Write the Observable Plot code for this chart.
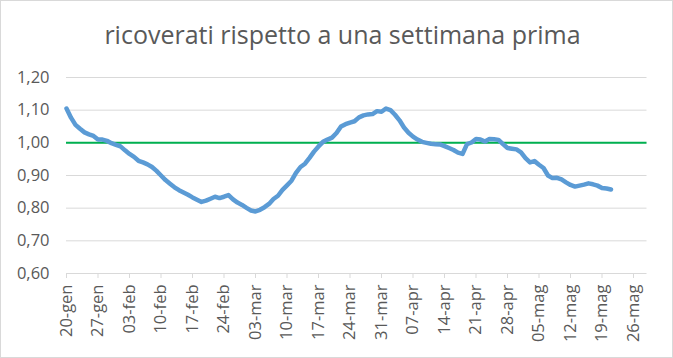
<!DOCTYPE html>
<html><head><meta charset="utf-8">
<script src="https://cdn.jsdelivr.net/npm/d3@7"></script>
<script src="https://cdn.jsdelivr.net/npm/@observablehq/plot@0.6"></script>
<style>
body{margin:0;background:#fff;}
#chart{position:relative;width:673px;height:358px;box-sizing:border-box;border:1px solid #d9d9d9;background:#fff;font-family:"Open Sans",sans-serif;overflow:hidden;}
#title{position:absolute;left:12px;right:0;top:17px;text-align:center;font-size:25px;color:#595959;line-height:32px;white-space:nowrap;}
#plot{position:absolute;left:0;top:60px;}
</style></head><body>
<div id="chart"><div id="title">ricoverati rispetto a una settimana prima</div><div id="plot"></div></div>
<script>
// daily ratio, starting 20-gen
const startDate = "2021-01-20";
const ratios = [
1.105,1.077,1.055,1.043,1.032,1.026,1.021,1.010,1.010,1.006,
0.999,0.994,0.989,0.977,0.966,0.957,0.945,0.940,0.934,0.926,
0.914,0.900,0.886,0.875,0.864,0.855,0.848,0.841,0.833,0.826,
0.819,0.823,0.829,0.835,0.831,0.835,0.840,0.827,0.817,0.810,
0.801,0.793,0.790,0.795,0.803,0.813,0.828,0.838,0.856,0.870,
0.884,0.908,0.926,0.936,0.954,0.973,0.989,1.003,1.010,1.016,
1.030,1.050,1.057,1.062,1.066,1.078,1.084,1.087,1.088,1.097,
1.095,1.105,1.100,1.086,1.069,1.047,1.031,1.019,1.010,1.003,
1.000,0.997,0.996,0.995,0.990,0.984,0.978,0.970,0.966,0.996,
1.001,1.012,1.010,1.004,1.012,1.011,1.009,0.996,0.984,0.982,
0.980,0.971,0.953,0.940,0.944,0.933,0.923,0.900,0.892,0.893,
0.888,0.879,0.871,0.866,0.869,0.872,0.876,0.873,0.869,0.862,
0.860,0.857
];
const tickDates = ["2021-01-20","2021-01-27","2021-02-03","2021-02-10","2021-02-17","2021-02-24",
"2021-03-03","2021-03-10","2021-03-17","2021-03-24","2021-03-31","2021-04-07","2021-04-14",
"2021-04-21","2021-04-28","2021-05-05","2021-05-12","2021-05-19","2021-05-26"];
const monthNames = ["gen","feb","mar","apr","mag","giu"];
const yTicks = [0.6,0.7,0.8,0.9,1.0,1.1,1.2];
const refValue = 1.0;
const xDomain = ["2021-01-20","2021-05-29"];

const data = ratios.map((v,i)=>({date: d3.utcDay.offset(new Date(startDate), i), v}));
const fmtDate = d => String(d.getUTCDate()).padStart(2,"0") + "-" + monthNames[d.getUTCMonth()];

const chart = Plot.plot({
  width: 671, height: 295,
  marginLeft: 65, marginRight: 25.5, marginTop: 16, marginBottom: 83,
  style: {fontFamily: "'Open Sans', sans-serif", fontSize: "16.5px", color: "#595959", background: "transparent", overflow: "visible"},
  x: {type: "utc", domain: xDomain.map(s => new Date(s))},
  y: {domain: [0.6, 1.2]},
  marks: [
    Plot.ruleY(yTicks, {stroke: "#d9d9d9", strokeWidth: 1}),
    Plot.axisY({ticks: yTicks, tickSize: 0, tickPadding: 17, tickFormat: d => d.toFixed(2).replace(".", ","), label: null}),
    Plot.axisX({ticks: tickDates.map(s => new Date(s)), tickSize: 5, tickRotate: -90, tickPadding: 6, tickFormat: fmtDate, label: null, stroke: "#d9d9d9"}),
    Plot.ruleY([refValue], {stroke: "#00b050", strokeWidth: 2}),
    Plot.line(data, {x: "date", y: "v", stroke: "#5b9bd5", strokeWidth: 4.5, strokeLinejoin: "round", strokeLinecap: "round"})
  ]
});
document.getElementById("plot").appendChild(chart);
</script>
</body></html>
